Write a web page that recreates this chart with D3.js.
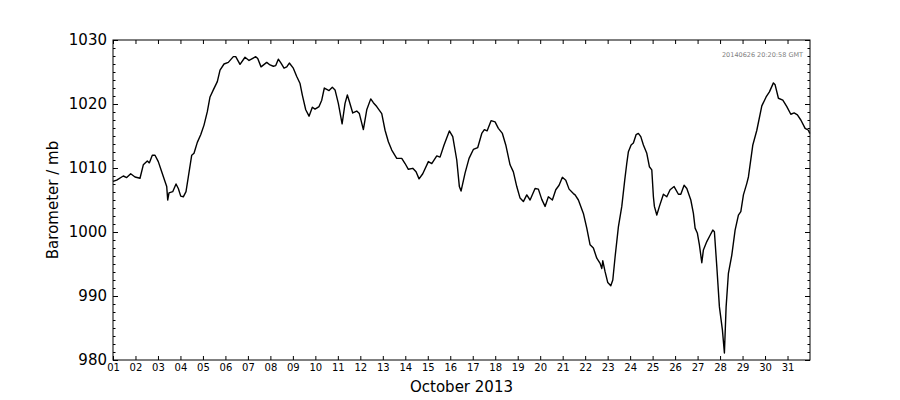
<!DOCTYPE html>
<html>
<head>
<meta charset="utf-8">
<script src="https://cdn.jsdelivr.net/npm/d3@7"></script>
<style>
  body { margin: 0; background: #fff; }
  svg text { font-family: "DejaVu Sans", sans-serif; }
</style>
</head>
<body>
<div id="chart"></div>
<script>
// days since 2013-10-01 00:00 GMT
const dayOffsets = [
  0, 0.165, 0.458, 0.609, 0.787, 0.979, 1.201, 1.348, 1.526, 1.615, 1.748, 1.868,
  2.015, 2.166, 2.313, 2.389, 2.433, 2.491, 2.656, 2.803, 2.905, 3.012, 3.127, 3.247,
  3.35, 3.501, 3.603, 3.75, 3.901, 4.048, 4.195, 4.315, 4.462, 4.64, 4.76, 4.938,
  5.129, 5.352, 5.458, 5.649, 5.872, 6.05, 6.197, 6.348, 6.437, 6.584, 6.837, 6.984,
  7.131, 7.238, 7.353, 7.473, 7.607, 7.727, 7.843, 8.02, 8.172, 8.319, 8.421, 8.572,
  8.719, 8.866, 8.986, 9.164, 9.284, 9.399, 9.506, 9.609, 9.755, 9.875, 10.022, 10.19,
  10.32, 10.423, 10.512, 10.663, 10.841, 10.957, 11.135, 11.286, 11.463, 11.579, 11.73, 11.953,
  12.1, 12.247, 12.398, 12.62, 12.843, 12.99, 13.136, 13.332, 13.479, 13.612, 13.777, 14.026,
  14.177, 14.4, 14.546, 14.724, 14.96, 15.111, 15.289, 15.405, 15.48, 15.658, 15.836, 16.027,
  16.223, 16.401, 16.517, 16.637, 16.815, 16.993, 17.14, 17.318, 17.469, 17.66, 17.807, 17.958,
  18.105, 18.252, 18.403, 18.55, 18.772, 18.919, 19.07, 19.217, 19.364, 19.542, 19.693, 19.84,
  19.987, 20.138, 20.285, 20.476, 20.552, 20.699, 20.921, 21.072, 21.219, 21.366, 21.517, 21.664,
  21.74, 21.784, 21.886, 22.006, 22.14, 22.229, 22.331, 22.478, 22.629, 22.76, 22.85, 22.923,
  23.043, 23.145, 23.265, 23.367, 23.474, 23.59, 23.741, 23.857, 23.964, 24.035, 24.079, 24.186,
  24.302, 24.48, 24.631, 24.778, 24.956, 25.147, 25.254, 25.4, 25.521, 25.699, 25.814, 25.89,
  25.992, 26.081, 26.188, 26.259, 26.41, 26.557, 26.677, 26.748, 26.855, 26.971, 27.104, 27.193,
  27.269, 27.371, 27.522, 27.669, 27.816, 27.923, 28.039, 28.19, 28.261, 28.457, 28.635, 28.857,
  29.048, 29.195, 29.373, 29.449, 29.595, 29.791, 29.969, 30.147, 30.294, 30.44, 30.592, 30.783,
  30.93, 30.99
];

// barometric pressure, mb
const pressure = [
  1007.9, 1008.1, 1008.75, 1008.5, 1009.1, 1008.6, 1008.4, 1010.5, 1011.1, 1010.8, 1012.0, 1012.0,
  1011.0, 1009.4, 1007.9, 1007.1, 1005.0, 1006.1, 1006.3, 1007.5, 1006.8, 1005.6, 1005.5, 1006.3,
  1008.6, 1012.0, 1012.3, 1014.0, 1015.2, 1016.7, 1018.8, 1021.1, 1022.2, 1023.5, 1025.3, 1026.25,
  1026.5, 1027.4, 1027.4, 1026.2, 1027.3, 1026.8, 1027.1, 1027.4, 1027.1, 1025.8, 1026.5, 1026.1,
  1025.9, 1026.0, 1027.0, 1026.4, 1025.6, 1025.8, 1026.4, 1025.6, 1024.3, 1023.2, 1021.4, 1019.1,
  1018.1, 1019.5, 1019.2, 1019.6, 1020.6, 1022.5, 1022.3, 1022.1, 1022.6, 1022.2, 1020.1, 1016.9,
  1020.1, 1021.4, 1020.4, 1018.6, 1018.9, 1018.5, 1016.0, 1019.1, 1020.8, 1020.2, 1019.6, 1018.5,
  1015.9, 1014.1, 1012.8, 1011.5, 1011.5, 1010.7, 1009.8, 1009.95, 1009.4, 1008.3, 1009.1, 1011.0,
  1010.7, 1011.9, 1011.7, 1013.6, 1015.8, 1014.9, 1011.25, 1007.1, 1006.4, 1009.2, 1011.5, 1012.9,
  1013.2, 1015.4, 1016.0, 1015.8, 1017.4, 1017.2, 1016.2, 1015.4, 1013.6, 1010.5, 1009.4, 1007.1,
  1005.3, 1004.75, 1005.8, 1005.0, 1006.8, 1006.7, 1005.1, 1004.0, 1005.5, 1005.0, 1006.6, 1007.3,
  1008.55, 1008.1, 1006.7, 1006.0, 1005.8, 1005.0, 1002.9, 1000.6, 998.0, 997.5, 995.9, 995.1,
  994.3, 995.5, 993.8, 992.1, 991.6, 992.5, 996.1, 1000.8, 1004.0, 1008.1, 1010.7, 1012.55,
  1013.6, 1013.9, 1015.2, 1015.4, 1014.9, 1013.6, 1012.3, 1010.2, 1009.7, 1005.5, 1004.0, 1002.65,
  1004.0, 1005.9, 1005.5, 1006.6, 1007.1, 1005.9, 1005.9, 1007.3, 1006.8, 1005.0, 1002.9, 1000.6,
  999.8, 998.0, 995.2, 997.2, 998.5, 999.5, 1000.3, 1000.05, 994.6, 988.3, 984.7, 981.1,
  988.3, 993.55, 996.4, 1000.3, 1002.65, 1003.2, 1005.8, 1007.6, 1008.6, 1013.6, 1015.9, 1019.7,
  1021.1, 1021.9, 1023.3, 1023.0, 1020.9, 1020.6, 1019.6, 1018.4, 1018.6, 1018.3, 1017.5, 1016.2,
  1015.9, 1015.4
];

const yTicks = [980, 990, 1000, 1010, 1020, 1030];
const xLabel = "October 2013";
const yLabel = "Barometer / mb";
const stamp = "20140626 20:20:58 GMT";

const width = 900;
const height = 400;
const margin = {top: 40, right: 90, bottom: 40, left: 113};
const w = width - margin.left - margin.right;
const h = height - margin.top - margin.bottom;

const start = Date.UTC(2013, 9, 1);
const data = dayOffsets.map((d, i) => ({
  date: new Date(start + d * 864e5),
  value: pressure[i]
}));

const svg = d3.select("#chart").append("svg")
  .attr("width", width)
  .attr("height", height);

const g = svg.append("g")
  .attr("transform", "translate(" + margin.left + "," + margin.top + ")");

const x = d3.scaleUtc()
  .domain([new Date(start), new Date(Date.UTC(2013, 10, 1))])
  .range([0, w]);

const y = d3.scaleLinear()
  .domain([980, 1030])
  .range([h, 0]);

const days = d3.utcDay.range(new Date(start), new Date(Date.UTC(2013, 9, 31, 1)));
const yMinor = d3.range(980, 1030.01, 1.25).filter(v => v % 10 !== 0);

// line
g.append("path")
  .datum(data)
  .attr("fill", "none")
  .attr("stroke", "#000")
  .attr("stroke-width", 1.4)
  .attr("stroke-linejoin", "round")
  .attr("d", d3.line()
    .x(d => x(d.date))
    .y(d => y(d.value)));

// bottom axis with labels
const xAxis = g.append("g")
  .attr("transform", "translate(0," + h + ")")
  .call(d3.axisBottom(x)
    .tickValues(days)
    .tickFormat(d3.utcFormat("%d"))
    .tickSizeInner(-4)
    .tickSizeOuter(0)
    .tickPadding(4));
xAxis.selectAll("text").attr("font-size", 10).attr("fill", "#000");

// top axis ticks
g.append("g")
  .call(d3.axisTop(x)
    .tickValues(days)
    .tickFormat("")
    .tickSizeInner(-4)
    .tickSizeOuter(0));

// left axis
const yAxis = g.append("g")
  .call(d3.axisLeft(y)
    .tickValues(yTicks)
    .tickFormat(d3.format("d"))
    .tickSizeInner(-5)
    .tickSizeOuter(0)
    .tickPadding(6));
yAxis.selectAll("text").attr("font-size", 15).attr("fill", "#000");

g.append("g")
  .call(d3.axisLeft(y).tickValues(yMinor).tickFormat("").tickSizeInner(-2.5).tickSizeOuter(0));

// right axis
g.append("g")
  .attr("transform", "translate(" + w + ",0)")
  .call(d3.axisRight(y).tickValues(yTicks).tickFormat("").tickSizeInner(-5).tickSizeOuter(0));
g.append("g")
  .attr("transform", "translate(" + w + ",0)")
  .call(d3.axisRight(y).tickValues(yMinor).tickFormat("").tickSizeInner(-2.5).tickSizeOuter(0));

g.selectAll(".domain").remove();
g.selectAll(".tick line").attr("stroke", "#000");

// frame
g.append("rect")
  .attr("width", w)
  .attr("height", h)
  .attr("fill", "none")
  .attr("stroke", "#000")
  .attr("stroke-width", 1);

// labels
svg.append("text")
  .attr("x", margin.left + w / 2)
  .attr("y", 392)
  .attr("text-anchor", "middle")
  .attr("font-size", 15)
  .text(xLabel);

svg.append("text")
  .attr("transform", "translate(58," + (margin.top + h / 2) + ") rotate(-90)")
  .attr("text-anchor", "middle")
  .attr("font-size", 15)
  .text(yLabel);

svg.append("text")
  .attr("x", margin.left + w - 7)
  .attr("y", 56.5)
  .attr("text-anchor", "end")
  .attr("font-size", 6.5)
  .attr("fill", "#808080")
  .text(stamp);
</script>
</body>
</html>
